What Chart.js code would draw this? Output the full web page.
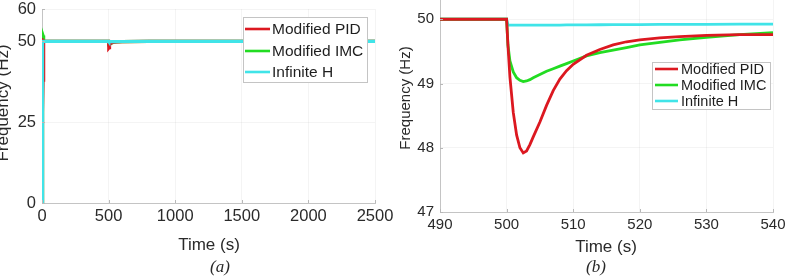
<!DOCTYPE html>
<html>
<head>
<meta charset="utf-8">
<script src="https://cdn.jsdelivr.net/npm/chart.js@4"></script>
<style>
  html, body { margin: 0; padding: 0; background: #ffffff; width: 788px; height: 276px; overflow: hidden; }
  .panel { position: absolute; top: 0; }
  #pa { left: 0; width: 405px; height: 276px; }
  #pb { left: 390px; width: 398px; height: 276px; }
</style>
</head>
<body>
<div class="panel" id="pa"><canvas id="ca" width="405" height="276"></canvas></div>
<div class="panel" id="pb"><canvas id="cb" width="398" height="276"></canvas></div>
<script>
// ---- Data ----
const seriesNames = ["Modified PID", "Modified IMC", "Infinite H"];
const timeSec = [0, 2, 4, 6, 8, 10, 12, 15, 20, 30, 100, 490, 500, 500.2, 500.5, 501, 501.5, 502, 502.5, 503,
  503.5, 504, 505, 506, 507, 508, 509, 510, 512, 514, 516, 518, 520, 523, 526, 530, 535, 540, 600, 800,
  1000, 1500, 2000, 2500];
const freqPID = [0, 8, 18, 28, 38, 45, 49, 50.2, 50, 50, 50, 50, 50, 49.6, 49.1, 48.55, 48.2, 48.0, 47.92, 47.95,
  48.05, 48.17, 48.4, 48.66, 48.89, 49.07, 49.2, 49.3, 49.44, 49.53, 49.6, 49.65, 49.68, 49.71, 49.73, 49.75, 49.76, 49.76, 49.92, 50,
  50, 50, 50, 50];
const freqIMC = [0, 30, 50, 52.3, 51.8, 51, 50.5, 50.2, 50, 50, 50, 50, 50, 49.6, 49.35, 49.18, 49.09, 49.05, 49.03, 49.04,
  49.06, 49.09, 49.14, 49.19, 49.23, 49.27, 49.31, 49.35, 49.43, 49.48, 49.52, 49.56, 49.6, 49.64, 49.68, 49.72, 49.76, 49.79, 49.93, 50,
  50, 50, 50, 50];
const freqHinf = [0, 50, 50, 50, 50, 50, 50, 50, 50, 50, 50, 50, 50, 49.91, 49.91, 49.91, 49.91, 49.91, 49.91, 49.91,
  49.91, 49.91, 49.91, 49.91, 49.91, 49.91, 49.912, 49.912, 49.914, 49.915, 49.916, 49.917, 49.918, 49.92, 49.921, 49.922, 49.924, 49.925, 49.95, 50,
  50, 50, 50, 50];
const ticksYa = [0, 25, 50, 60];
const ticksYb = [47, 48, 49, 50];
// ------------------------------------------------

const colors = ["#dc1820", "#22dc22", "#40e4e8"];
const FONT = "'Liberation Sans', Arial, Helvetica, sans-serif";
const allSeries = [freqPID, freqIMC, freqHinf];

function makeDatasets(width, orders) {
  return allSeries.map((vals, i) => ({
    label: seriesNames[i],
    data: timeSec.map((t, k) => ({ x: t, y: vals[k] })),
    borderColor: colors[i],
    backgroundColor: colors[i],
    borderWidth: width,
    pointRadius: 0,
    tension: 0,
    fill: false,
    order: orders[i]
  }));
}

// plugin: titles, captions, legend, inside tick marks
const decorPlugin = {
  id: 'decor',
  afterDraw(chart) {
    const o = chart.options.plugins.decor;
    const ctx = chart.ctx;
    const ca = chart.chartArea;
    ctx.save();
    ctx.strokeStyle = '#b8b8b8';
    ctx.lineWidth = 1;
    const xs = chart.scales.x, ys = chart.scales.y;
    xs.ticks.forEach(t => {
      const px = Math.round(xs.getPixelForValue(t.value)) + 0.5;
      ctx.beginPath(); ctx.moveTo(px, ca.bottom); ctx.lineTo(px, ca.bottom - 3); ctx.stroke();
    });
    ys.ticks.forEach(t => {
      const py = Math.round(ys.getPixelForValue(t.value)) + 0.5;
      ctx.beginPath(); ctx.moveTo(ca.left, py); ctx.lineTo(ca.left + 3, py); ctx.stroke();
    });
    ctx.fillStyle = '#2a2a2a';
    ctx.save();
    ctx.translate(o.yTitle.x, o.yTitle.y);
    ctx.rotate(-Math.PI / 2);
    ctx.font = o.yTitle.size + 'px ' + FONT;
    ctx.textAlign = 'center';
    ctx.textBaseline = 'alphabetic';
    ctx.fillText('Frequency (Hz)', 0, 0);
    ctx.restore();
    ctx.font = o.xTitle.size + 'px ' + FONT;
    ctx.textAlign = 'center';
    ctx.textBaseline = 'middle';
    ctx.fillText('Time (s)', o.xTitle.x, o.xTitle.y);
    ctx.font = 'italic ' + o.caption.size + "px 'Liberation Serif', 'Times New Roman', serif";
    ctx.fillText(o.caption.text, o.caption.x, o.caption.y);
    const L = o.legend;
    ctx.fillStyle = '#ffffff';
    ctx.fillRect(L.x, L.y, L.w, L.h);
    ctx.strokeStyle = '#c4c4c4';
    ctx.lineWidth = 1;
    ctx.strokeRect(L.x + 0.5, L.y + 0.5, L.w, L.h);
    ctx.font = L.size + 'px ' + FONT;
    ctx.textAlign = 'left';
    ctx.textBaseline = 'middle';
    chart.data.datasets.forEach((ds, i) => {
      const yy = L.rows[i];
      ctx.strokeStyle = ds.borderColor;
      ctx.lineWidth = L.lw;
      ctx.beginPath(); ctx.moveTo(L.lx0, yy); ctx.lineTo(L.lx1, yy); ctx.stroke();
      ctx.fillStyle = '#1e1e1e';
      ctx.fillText(ds.label, L.tx, yy + 0.5);
    });
    ctx.restore();
  }
};

function scaleX(min, max, step, height, size) {
  return {
    type: 'linear', min: min, max: max,
    ticks: { stepSize: step, color: '#2a2a2a', font: { family: FONT, size: size }, padding: 4, maxRotation: 0, autoSkip: false,
      callback: v => String(v) },
    grid: { color: 'rgba(0,0,0,0.045)', drawTicks: false },
    border: { color: '#c4c4c4', width: 1 },
    afterFit(s) { s.height = height; s.paddingLeft = 0; s.paddingRight = 0; }
  };
}
function scaleY(min, max, ticks, width, size) {
  return {
    type: 'linear', min: min, max: max,
    afterBuildTicks(s) { s.ticks = ticks.map(v => ({ value: v })); },
    ticks: { color: '#2a2a2a', font: { family: FONT, size: size }, padding: 6, callback: v => String(v) },
    grid: { color: 'rgba(0,0,0,0.045)', drawTicks: false },
    border: { color: '#c4c4c4', width: 1 },
    afterFit(s) { s.width = width; s.paddingTop = 0; s.paddingBottom = 0; }
  };
}

Chart.defaults.devicePixelRatio = 1;

new Chart(document.getElementById('ca'), {
  type: 'line',
  data: { datasets: makeDatasets(3.2, [1, 2, 0]) },
  options: {
    responsive: false, animation: false, devicePixelRatio: 1,
    layout: { padding: { left: 0, right: 30, top: 9, bottom: 0 } },
    scales: { x: scaleX(0, 2500, 500, 73, 16.5), y: scaleY(0, 60, ticksYa, 42, 16.5) },
    plugins: {
      legend: { display: false }, tooltip: { enabled: false },
      decor: {
        yTitle: { x: 7.5, y: 103, size: 17 },
        xTitle: { x: 209, y: 245, size: 17 },
        caption: { text: '(a)', x: 220, y: 268, size: 17 },
        legend: { x: 243, y: 17, w: 124, h: 65, rows: [29, 51, 72], lx0: 245, lx1: 270, tx: 272, size: 15.5, lw: 2.6 }
      }
    }
  },
  plugins: [decorPlugin]
});

new Chart(document.getElementById('cb'), {
  type: 'line',
  data: { datasets: makeDatasets(2.8, [0, 1, 2]) },
  options: {
    responsive: false, animation: false, devicePixelRatio: 1,
    layout: { padding: { left: 0, right: 15, top: 0, bottom: 0 } },
    scales: { x: scaleX(490, 540, 10, 64, 15), y: scaleY(47, 50.3, ticksYb, 50, 15) },
    plugins: {
      legend: { display: false }, tooltip: { enabled: false },
      decor: {
        yTitle: { x: 20, y: 98, size: 15 },
        xTitle: { x: 216, y: 247, size: 17 },
        caption: { text: '(b)', x: 206, y: 268, size: 17 },
        legend: { x: 262, y: 62, w: 118, h: 47, rows: [69, 85, 101], lx0: 265, lx1: 288, tx: 291, size: 14.5, lw: 2.6 }
      }
    }
  },
  plugins: [decorPlugin]
});
</script>
</body>
</html>
